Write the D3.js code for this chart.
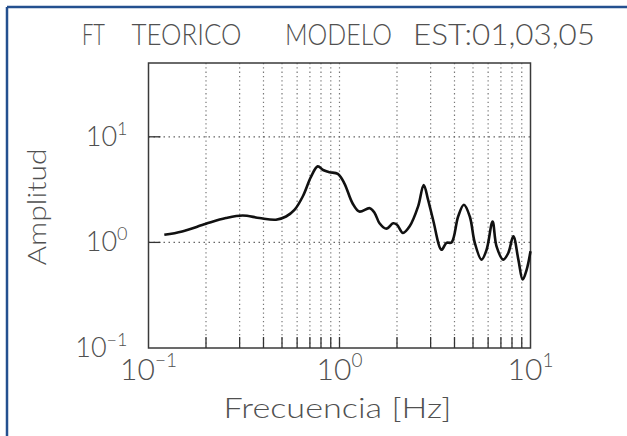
<!DOCTYPE html>
<html>
<head>
<meta charset="utf-8">
<script src="https://cdn.jsdelivr.net/npm/d3@7"></script>
<style>
  body { margin: 0; background: #fff; }
  svg text { font-family: Lato, "Liberation Sans", Arial, sans-serif; font-weight: 300; fill: #505050; }
</style>
</head>
<body>
<div id="graphique"></div>
<script>
// donnees
const frecuencias = [0.121, 0.150, 0.200, 0.254, 0.311, 0.381, 0.465, 0.525, 0.581, 0.642,
    0.710, 0.769, 0.82, 0.886, 0.98, 1.06, 1.17, 1.27, 1.44, 1.53,
    1.62, 1.76, 1.91, 2.0, 2.15, 2.33, 2.58, 2.76, 2.91, 3.09,
    3.42, 3.63, 3.86, 4.18, 4.48, 4.81, 5.11, 5.54, 5.89, 6.33,
    6.64, 7.2, 7.65, 8.13, 8.64, 9.1, 9.55, 10.0];
const amplitudes = [1.18, 1.27, 1.50, 1.70, 1.80, 1.70, 1.64, 1.76, 2.03, 2.72,
    4.2, 5.25, 4.85, 4.62, 4.45, 3.63, 2.35, 1.96, 2.11, 1.89,
    1.52, 1.35, 1.52, 1.47, 1.23, 1.42, 2.19, 3.50, 2.53, 1.64,
    0.853, 0.99, 1.0, 1.76, 2.27, 1.76, 0.99, 0.687, 0.853, 1.58,
    0.917, 0.687, 0.794, 1.14, 0.687, 0.445, 0.553, 0.823];
const xDecades = [0.1, 1, 10];
const yDecades = [0.1, 1, 10];
const xExpos = ["\u22121", "0", "1"];
const yExpos = ["\u22121", "0", "1"];
const xMinor = [0.2, 0.3, 0.4, 0.5, 0.6, 0.7, 0.8, 0.9, 1, 2, 3, 4, 5, 6, 7, 8, 9];
const yGrid = [1, 10];
const titreMots = ["FT", "TEORICO", "MODELO", "EST:01,03,05"];

function AffichageGraph() {
    const width = 627, height = 436;
    const margin = { top: 63, left: 148.5, right: 96.5, bottom: 88 };
    const innerWidth = width - margin.left - margin.right;
    const innerHeight = height - margin.top - margin.bottom;

    const root = d3.select("#graphique").append("svg")
        .attr("width", width)
        .attr("height", height);

    // cadre bleu
    root.append("line").attr("x1", 7).attr("y1", 7).attr("x2", width).attr("y2", 7)
        .style("stroke", "#24508f").style("stroke-width", 2.5);
    root.append("line").attr("x1", 7).attr("y1", 7).attr("x2", 7).attr("y2", height)
        .style("stroke", "#24508f").style("stroke-width", 2.5);

    // titre
    const titrePos = [[82, 23], [131.5, 110], [285, 107], [413, 182]];
    titreMots.forEach((m, i) => {
        root.append("text")
            .attr("x", titrePos[i][0])
            .attr("y", 45)
            .attr("textLength", titrePos[i][1])
            .attr("lengthAdjust", "spacingAndGlyphs")
            .style("font-size", "29px")
            .text(m);
    });

    const svg = root.append("g")
        .attr("transform", `translate(${margin.left},${margin.top})`);

    const xScale = d3.scaleLog().domain([0.1, 10]).range([0, innerWidth]);
    const yScale = d3.scaleLog().domain([0.1, 50]).range([innerHeight, 0]);

    // grille pointillee
    svg.selectAll(".vgrid")
        .data(xMinor)
        .enter()
        .append("line")
        .attr("class", "vgrid")
        .attr("x1", d => xScale(d)).attr("x2", d => xScale(d))
        .attr("y1", 0).attr("y2", innerHeight)
        .style("stroke", "#777")
        .style("stroke-width", 1.2)
        .style("stroke-dasharray", "1.3,3");

    svg.selectAll(".hgrid")
        .data(yGrid)
        .enter()
        .append("line")
        .attr("class", "hgrid")
        .attr("x1", 0).attr("x2", innerWidth)
        .attr("y1", d => yScale(d)).attr("y2", d => yScale(d))
        .style("stroke", "#666")
        .style("stroke-width", 1.3)
        .style("stroke-dasharray", "1.5,3.5");

    // traits de graduation
    svg.selectAll(".xtick")
        .data(xMinor)
        .enter()
        .append("line")
        .attr("x1", d => xScale(d)).attr("x2", d => xScale(d))
        .attr("y1", innerHeight).attr("y2", innerHeight - 11)
        .style("stroke", "#333")
        .style("stroke-width", 1.3);

    svg.selectAll(".ytick")
        .data(yGrid)
        .enter()
        .append("line")
        .attr("x1", 0).attr("x2", 12)
        .attr("y1", d => yScale(d)).attr("y2", d => yScale(d))
        .style("stroke", "#333")
        .style("stroke-width", 1.3);

    // cadre du graphe
    svg.append("rect")
        .attr("width", innerWidth)
        .attr("height", innerHeight)
        .style("fill", "none")
        .style("stroke", "#3a3a3a")
        .style("stroke-width", 1.5);

    // courbe
    const line = d3.line()
        .x(d => xScale(d[0]))
        .y(d => yScale(d[1]))
        .curve(d3.curveCatmullRom.alpha(0.5));

    svg.append("path")
        .datum(frecuencias.map((f, i) => [f, amplitudes[i]]))
        .attr("d", line)
        .style("fill", "none")
        .style("stroke", "#111")
        .style("stroke-width", 2.6)
        .style("stroke-linejoin", "round");

    // etiquettes axe x
    const xl = svg.selectAll(".xlab")
        .data(xDecades)
        .enter()
        .append("text")
        .attr("x", d => xScale(d))
        .attr("y", innerHeight + 32)
        .attr("text-anchor", "middle");
    xl.append("tspan").style("font-size", "30px").text("10");
    xl.append("tspan").attr("dy", -13).style("font-size", "19px").text((d, i) => xExpos[i]);

    // etiquettes axe y
    const yl = svg.selectAll(".ylab")
        .data(yDecades)
        .enter()
        .append("text")
        .attr("x", -21)
        .attr("y", d => yScale(d) + 9)
        .attr("text-anchor", "end");
    yl.append("tspan").style("font-size", "27px").text("10");
    yl.append("tspan").attr("dy", -11).style("font-size", "18px").text((d, i) => yExpos[i]);

    // titres des axes
    root.append("text")
        .attr("x", margin.left + innerWidth / 2 - 2)
        .attr("y", 418)
        .attr("text-anchor", "middle")
        .attr("textLength", 228)
        .attr("lengthAdjust", "spacingAndGlyphs")
        .style("font-size", "28px")
        .text("Frecuencia  [Hz]");

    root.append("text")
        .attr("transform", "translate(46,207) rotate(-90)")
        .attr("text-anchor", "middle")
        .attr("textLength", 117)
        .attr("lengthAdjust", "spacingAndGlyphs")
        .style("font-size", "26px")
        .text("Amplitud");
}

AffichageGraph();
</script>
</body>
</html>
